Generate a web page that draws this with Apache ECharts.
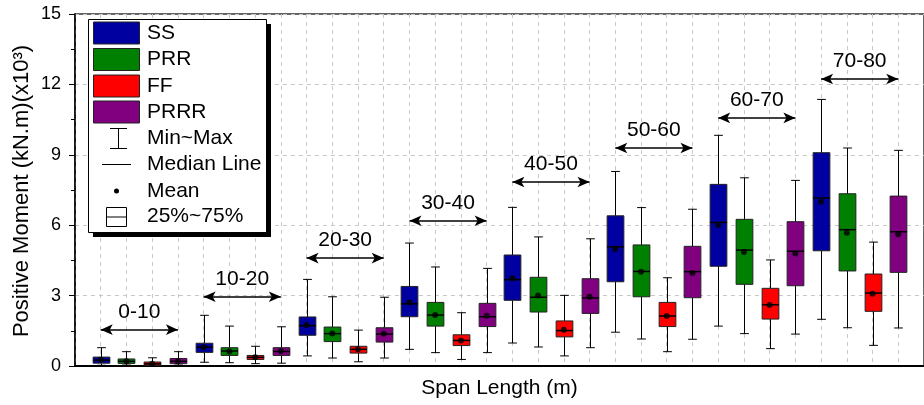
<!DOCTYPE html>
<html>
<head>
<meta charset="utf-8">
<script src="https://cdn.jsdelivr.net/npm/echarts@6/dist/echarts.min.js"></script>
<style>
  html, body { margin: 0; padding: 0; background: #fff; }
  #chart { width: 924px; height: 405px; }
</style>
</head>
<body>
<div id="chart"></div>
<script>
// Span-length groups and the four support types
const groupLabels = ['0-10', '10-20', '20-30', '30-40', '40-50', '50-60', '60-70', '70-80'];
const typeNames = ['SS', 'PRR', 'FF', 'PRRR'];
const typeColors = ['#0000A0', '#008000', '#FF0000', '#800080'];

// Box statistics per group: [min, Q1, median, Q3, max] (kN.m x10^3)
const ssBoxes = [
  [0.03, 0.12, 0.25, 0.38, 0.78],
  [0.16, 0.58, 0.80, 0.97, 2.16],
  [0.43, 1.31, 1.72, 2.09, 3.69],
  [0.71, 2.10, 2.65, 3.39, 5.24],
  [0.98, 2.80, 3.68, 4.73, 6.76],
  [1.44, 3.59, 5.08, 6.40, 8.29],
  [1.70, 4.25, 6.12, 7.74, 9.83],
  [1.99, 4.91, 7.16, 9.09, 11.36]
];
const prrBoxes = [
  [0.04, 0.11, 0.20, 0.30, 0.61],
  [0.14, 0.45, 0.64, 0.78, 1.70],
  [0.34, 1.04, 1.38, 1.66, 2.95],
  [0.57, 1.70, 2.17, 2.71, 4.22],
  [0.81, 2.30, 2.93, 3.78, 5.50],
  [1.15, 2.95, 4.03, 5.16, 6.75],
  [1.38, 3.48, 4.94, 6.25, 8.02],
  [1.63, 4.05, 5.81, 7.34, 9.29]
];
const ffBoxes = [
  [0.01, 0.03, 0.09, 0.17, 0.35],
  [0.10, 0.28, 0.37, 0.45, 0.84],
  [0.18, 0.55, 0.71, 0.84, 1.53],
  [0.28, 0.87, 1.09, 1.33, 2.27],
  [0.43, 1.24, 1.51, 1.92, 3.01],
  [0.61, 1.68, 2.13, 2.71, 3.76],
  [0.74, 2.00, 2.61, 3.31, 4.52],
  [0.88, 2.33, 3.11, 3.92, 5.28]
];
const prrrBoxes = [
  [0.04, 0.10, 0.20, 0.32, 0.61],
  [0.12, 0.45, 0.62, 0.78, 1.67],
  [0.34, 1.02, 1.36, 1.63, 2.93],
  [0.57, 1.68, 2.10, 2.67, 4.16],
  [0.78, 2.24, 2.90, 3.72, 5.42],
  [1.14, 2.91, 4.02, 5.10, 6.68],
  [1.36, 3.42, 4.89, 6.15, 7.91],
  [1.62, 3.99, 5.72, 7.24, 9.19]
];

// Means per group
const ssMeans   = [0.27, 0.80, 1.75, 2.71, 3.74, 4.99, 6.01, 7.00];
const prrMeans  = [0.20, 0.62, 1.38, 2.17, 3.00, 4.02, 4.86, 5.68];
const ffMeans   = [0.10, 0.37, 0.71, 1.09, 1.55, 2.13, 2.60, 3.08];
const prrrMeans = [0.20, 0.64, 1.38, 2.14, 2.95, 3.96, 4.79, 5.61];

// Height of each group's span arrow
const groupArrowY = [1.55, 2.95, 4.60, 6.19, 7.84, 9.29, 10.57, 12.23];

// Y axis ticks
const yTicks = [0, 3, 6, 9, 12, 15];

const FONT = "'Liberation Sans', Arial, Helvetica, sans-serif";
const allBoxes = [ssBoxes, prrBoxes, ffBoxes, prrrBoxes];
const allMeans = [ssMeans, prrMeans, ffMeans, prrrMeans];

// x position: four boxes per group, one unit apart
const xPos = (g, t) => g * 4 + t + 1;

function renderBox(params, api) {
  const x = api.value(0);
  const lo = api.coord([x, api.value(1)]);
  const q1 = api.coord([x, api.value(2)]);
  const md = api.coord([x, api.value(3)]);
  const q3 = api.coord([x, api.value(4)]);
  const hi = api.coord([x, api.value(5)]);
  const unit = api.size([1, 0])[0];
  const bw = unit * 0.65;
  const cw = unit * 0.34;
  const cx = Math.round(lo[0]) + 0.5;
  const color = api.visual('color');
  const line = (x1, y1, x2, y2, w) => ({
    type: 'line',
    shape: { x1, y1, x2, y2 },
    style: { stroke: '#000', lineWidth: w || 1 }
  });
  return {
    type: 'group',
    children: [
      line(cx, hi[1], cx, q3[1]),
      line(cx, q1[1], cx, lo[1]),
      line(cx - cw / 2, hi[1], cx + cw / 2, hi[1]),
      line(cx - cw / 2, lo[1], cx + cw / 2, lo[1]),
      {
        type: 'rect',
        shape: { x: cx - bw / 2, y: q3[1], width: bw, height: q1[1] - q3[1] },
        style: { fill: color, stroke: '#222', lineWidth: 1 }
      },
      line(cx - bw / 2, md[1], cx + bw / 2, md[1], 1.5)
    ]
  };
}

const boxSeries = typeNames.map((name, t) => ({
  name,
  type: 'custom',
  renderItem: renderBox,
  itemStyle: { color: typeColors[t] },
  encode: { x: 0, y: [1, 2, 3, 4, 5] },
  data: allBoxes[t].map((b, g) => [xPos(g, t)].concat(b)),
  z: 3
}));

const meanData = [];
allMeans.forEach((arr, t) => arr.forEach((m, g) => meanData.push([xPos(g, t), m])));

const meanSeries = {
  name: 'Mean',
  type: 'scatter',
  symbol: 'circle',
  symbolSize: 6,
  itemStyle: { color: '#000' },
  data: meanData,
  z: 5,
  markLine: {
    silent: true,
    symbol: ['arrow', 'arrow'],
    symbolSize: [8, 12],
    lineStyle: { color: '#000', width: 1.5, type: 'solid' },
    label: {
      show: true,
      position: 'middle',
      formatter: '{b}',
      fontSize: 21,
      fontFamily: FONT,
      color: '#000',
      distance: 7
    },
    emphasis: { disabled: true },
    data: groupLabels.map((g, i) => [
      { name: g, coord: [xPos(i, 0), groupArrowY[i]] },
      { coord: [xPos(i, 3), groupArrowY[i]] }
    ])
  }
};

// Legend panel drawn as graphics
const LX = 88, LY = 19, LW = 178, LH = 213;
const rowY = [33, 59.5, 86, 112, 138.5, 164.5, 191, 216.5];
const legendTexts = typeNames.concat(['Min~Max', 'Median Line', 'Mean', '25%~75%']);
const legendEls = [
  { type: 'rect', shape: { x: LX + 5, y: LY + 5, width: LW, height: LH }, style: { fill: '#000' } },
  { type: 'rect', shape: { x: LX + 0.5, y: LY + 0.5, width: LW, height: LH }, style: { fill: '#fff', stroke: '#000', lineWidth: 1 } }
];
typeColors.forEach((c, i) => {
  legendEls.push({
    type: 'rect',
    shape: { x: 93.5, y: rowY[i] - 11, width: 46, height: 22 },
    style: { fill: c, stroke: '#222', lineWidth: 1 }
  });
});
// Min~Max symbol
legendEls.push(
  { type: 'line', shape: { x1: 118.5, y1: 128, x2: 118.5, y2: 149 }, style: { stroke: '#000', lineWidth: 1 } },
  { type: 'line', shape: { x1: 110, y1: 128.5, x2: 127, y2: 128.5 }, style: { stroke: '#000', lineWidth: 1 } },
  { type: 'line', shape: { x1: 110, y1: 148.5, x2: 127, y2: 148.5 }, style: { stroke: '#000', lineWidth: 1 } }
);
// Median line symbol
legendEls.push({ type: 'line', shape: { x1: 102, y1: 164.5, x2: 131, y2: 164.5 }, style: { stroke: '#000', lineWidth: 1 } });
// Mean symbol
legendEls.push({ type: 'circle', shape: { cx: 116.5, cy: 191, r: 2.5 }, style: { fill: '#000' } });
// 25%~75% symbol
legendEls.push(
  { type: 'rect', shape: { x: 106.5, y: 207.5, width: 20, height: 19 }, style: { fill: '#fff', stroke: '#000', lineWidth: 1 } },
  { type: 'line', shape: { x1: 106.5, y1: 217, x2: 126.5, y2: 217 }, style: { stroke: '#000', lineWidth: 1 } }
);
legendTexts.forEach((t, i) => {
  legendEls.push({
    type: 'text',
    x: 147, y: rowY[i],
    style: { text: t, font: '21px ' + FONT, fill: '#000', textVerticalAlign: 'middle', textAlign: 'left' }
  });
});
legendEls.forEach(el => { el.z = 100; });

// Vertical y-axis title, centred on the plot height
const yTitle = {
  type: 'text',
  x: 22, y: 191,
  rotation: Math.PI / 2,
  z: 100,
  style: {
    text: 'Positive Moment (kN.m)(x10³)',
    font: '22px ' + FONT,
    fill: '#000',
    textAlign: 'center',
    textVerticalAlign: 'middle'
  }
};

const chart = echarts.init(document.getElementById('chart'), null, { renderer: 'canvas' });
chart.setOption({
  animation: false,
  backgroundColor: '#fff',
  textStyle: { fontFamily: FONT },
  grid: {
    left: 75, top: 14, width: 858, height: 352,
    show: true, borderColor: '#333', borderWidth: 1.5, backgroundColor: 'transparent'
  },
  xAxis: {
    type: 'value',
    min: 0, max: 33, interval: 1,
    axisLine: { show: true, lineStyle: { color: '#000', width: 2 } },
    axisTick: { show: false },
    axisLabel: { show: false },
    splitLine: { show: true, lineStyle: { color: '#c8c8c8', type: [4, 4], width: 1 } },
    name: 'Span Length (m)',
    nameLocation: 'middle',
    nameGap: 12,
    nameTextStyle: { fontSize: 21, color: '#000', fontFamily: FONT }
  },
  yAxis: {
    type: 'value',
    min: yTicks[0], max: yTicks[yTicks.length - 1], interval: yTicks[1] - yTicks[0],
    axisLine: { show: true, lineStyle: { color: '#000', width: 1.5 } },
    axisTick: { show: true, inside: false, length: 6, lineStyle: { color: '#000', width: 1 } },
    minorTick: { show: true, splitNumber: 2, length: 4, lineStyle: { color: '#000', width: 1 } },
    axisLabel: { fontSize: 18, color: '#000', margin: 14, fontFamily: FONT },
    splitLine: { show: true, lineStyle: { color: '#c8c8c8', type: [4, 4], width: 1 } }
  },
  graphic: [{ type: 'group', children: legendEls.concat([yTitle]) }],
  series: boxSeries.concat([meanSeries])
});
</script>
</body>
</html>
